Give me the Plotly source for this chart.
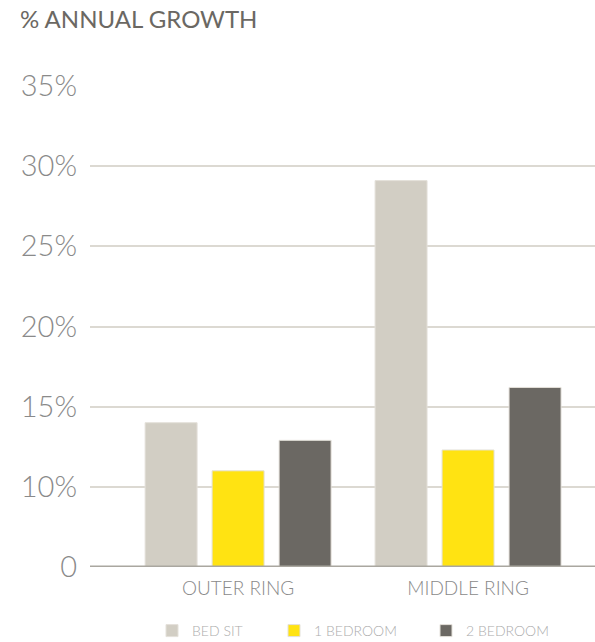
import plotly.graph_objects as go

categories = ["OUTER RING", "MIDDLE RING"]
series_names = ["BED SIT", "1 BEDROOM", "2 BEDROOM"]
bed_sit = [14.0, 29.1]
one_bed = [11.0, 12.3]
two_bed = [12.9, 16.2]
tick_vals = [5, 10, 15, 20, 25, 30, 35]
tick_text = ["0", "10%", "15%", "20%", "25%", "30%", "35%"]

colors = ["#d2cec4", "#ffe312", "#6b6863"]
legend_ids = ["legend", "legend2", "legend3"]
legend_text_x_px = [192, 314, 466]

BASE = 5
fig = go.Figure()
for name, vals, c, lid in zip(series_names, [bed_sit, one_bed, two_bed], colors, legend_ids):
    fig.add_trace(go.Bar(
        x=categories, y=[v - BASE for v in vals], base=BASE, name=name,
        marker=dict(color=c, line=dict(color="#e4e1da", width=1)),
        legend=lid, showlegend=True,
    ))

W, H = 595, 642
L, R, T, B = 90, 0, 86, 75

def legend_cfg(tx):
    return dict(orientation="h", x=(tx - 40) / W, xanchor="left", xref="container",
                y=1 - 631 / H, yanchor="middle", yref="container",
                font=dict(size=14, color="#acacac", weight=300),
                itemwidth=30, bgcolor="rgba(0,0,0,0)")

layout_legends = {lid: legend_cfg(x) for lid, x in zip(legend_ids, legend_text_x_px)}

fig.update_layout(
    width=W, height=H,
    margin=dict(l=L, r=R, t=T, b=B, autoexpand=False),
    paper_bgcolor="white", plot_bgcolor="white",
    barmode="group", bargap=0.126, bargroupgap=0.224,
    font=dict(family="Lato, 'Open Sans', sans-serif", color="#8a8a8a"),
    title=dict(text="% ANNUAL GROWTH", x=20 / W, xanchor="left", xref="container",
               y=1 - 20 / H, yanchor="middle", yref="container",
               font=dict(size=24, color="#6b6863", family="Lato, sans-serif", weight=400)),
    xaxis=dict(type="category", range=[-0.644, 1.552], showgrid=False,
               showline=False, zeroline=False, ticks="",
               tickfont=dict(size=19, color="#8a8a8a", weight=300), ticklabelstandoff=8),
    yaxis=dict(range=[5, 35], tickvals=tick_vals, ticktext=tick_text,
               showgrid=True, gridcolor="#dcd9d2", gridwidth=1.5,
               zeroline=False, showline=False, ticks="",
               tickfont=dict(size=29, color="#8a8a8a", weight=300),
               ticklabelstandoff=12),
    shapes=[dict(type="line", xref="paper", yref="y", x0=0, x1=1, y0=5, y1=5,
                 line=dict(color="#aaa7a0", width=3), layer="above")],
    **layout_legends,
)

fig.write_html("out.html")
